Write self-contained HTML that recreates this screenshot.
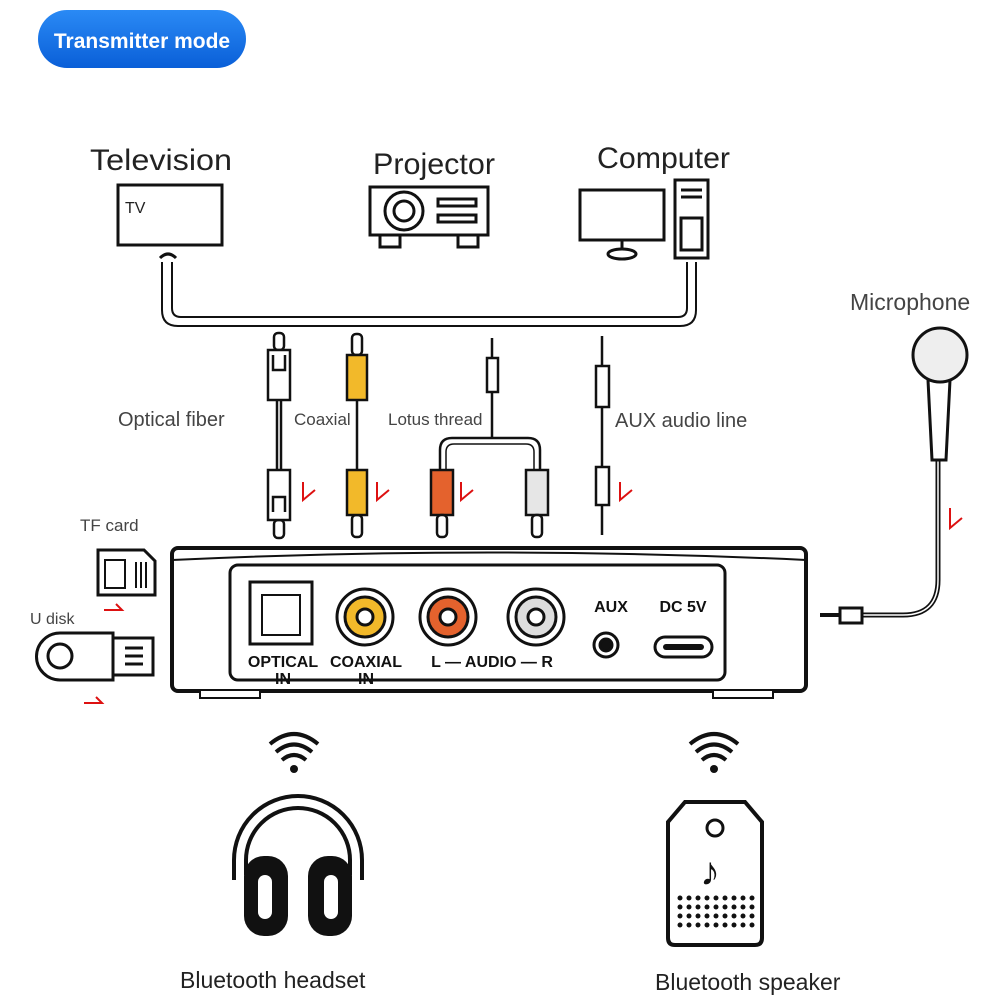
<!DOCTYPE html>
<html><head><meta charset="utf-8"><style>
html,body{margin:0;padding:0;background:#fff;width:1001px;height:1001px;overflow:hidden}
svg text{font-family:"Liberation Sans",sans-serif}
</style></head><body>
<svg width="1001" height="1001" viewBox="0 0 1001 1001" xmlns="http://www.w3.org/2000/svg">
<defs><linearGradient id="bl" x1="0" y1="0" x2="0" y2="1"><stop offset="0" stop-color="#2a8af5"/><stop offset="1" stop-color="#0a5fd8"/></linearGradient></defs>
<rect x="38" y="10" width="208" height="58" rx="29" fill="url(#bl)"/>
<text x="142" y="48" font-size="21" font-weight="bold" fill="#fff" text-anchor="middle">Transmitter mode</text>

<g fill="#222" font-size="30">
<text x="90" y="170" textLength="142" lengthAdjust="spacingAndGlyphs">Television</text>
<text x="373" y="174" textLength="122" lengthAdjust="spacingAndGlyphs">Projector</text>
<text x="597" y="168" textLength="133" lengthAdjust="spacingAndGlyphs">Computer</text>
</g>
<g fill="#444" font-size="20">
<text x="118" y="426">Optical fiber</text>
<text x="294" y="425" font-size="17">Coaxial</text>
<text x="388" y="425" font-size="17">Lotus thread</text>
<text x="615" y="427">AUX audio line</text>
<text x="850" y="310" font-size="23">Microphone</text>
<text x="80" y="531" font-size="17">TF card</text>
<text x="30" y="624" font-size="16">U disk</text>
<text x="180" y="988" font-size="23" fill="#222">Bluetooth headset</text>
<text x="655" y="990" font-size="23" fill="#222">Bluetooth speaker</text>
</g>

<g fill="none" stroke="#111" stroke-width="3">
<rect x="118" y="185" width="104" height="60"/>
<path d="M160 258 q8 -8 16 0"/>
<rect x="370" y="187" width="118" height="48"/>
<rect x="380" y="235" width="20" height="12"/><rect x="458" y="235" width="20" height="12"/>
<circle cx="404" cy="211" r="19"/><circle cx="404" cy="211" r="10"/>
<rect x="438" y="199" width="38" height="7"/><rect x="438" y="215" width="38" height="7"/>
<rect x="580" y="190" width="84" height="50"/>
<path d="M622 240 v10"/><ellipse cx="622" cy="254" rx="14" ry="5"/>
<rect x="675" y="180" width="33" height="78"/>
<rect x="681" y="218" width="21" height="32"/>
<path d="M681 190 h21 M681 197 h21"/>
<path d="M162 262 V310 q0 16 16 16 H680 q16 0 16 -16 V262" stroke-width="2"/>
<path d="M172 262 V308 q0 9 9 9 H678 q9 0 9 -9 V262" stroke-width="2"/>
</g>
<text x="125" y="213" font-size="16" fill="#222">TV</text>

<g stroke="#111" stroke-width="2.5" fill="none">
<!-- optical -->
<rect x="274" y="333" width="10" height="17" rx="4" fill="#fff"/>
<path d="M277 400 v70 M281 400 v70"/>
<rect x="274" y="520" width="10" height="18" rx="4" fill="#fff"/>
<rect x="268" y="350" width="22" height="50" fill="#fff"/>
<rect x="268" y="470" width="22" height="50" fill="#fff"/>
<path d="M273 355 v15 h12 v-15 M273 512 v-15 h12 v15"/>
<!-- coaxial -->
<rect x="352" y="334" width="10" height="21" rx="4" fill="#fff"/>
<path d="M357 400 v70"/>
<rect x="352" y="515" width="10" height="22" rx="4" fill="#fff"/>
<rect x="347" y="355" width="20" height="45" fill="#f2b92a"/>
<rect x="347" y="470" width="20" height="45" fill="#f2b92a"/>
<!-- lotus -->
<path d="M492 338 v20 M492 392 v46"/>
<rect x="487" y="358" width="11" height="34" fill="#fff"/>
<path d="M440 470 v-20 q0 -12 12 -12 h76 q12 0 12 12 v20"/>
<path d="M446 470 v-18 q0 -8 8 -8 h72 q8 0 8 8 v18" stroke-width="1.5"/>
<rect x="431" y="470" width="22" height="45" fill="#e4622d"/>
<rect x="526" y="470" width="22" height="45" fill="#e6e6e6"/>
<rect x="437" y="515" width="10" height="22" rx="4" fill="#fff"/>
<rect x="532" y="515" width="10" height="22" rx="4" fill="#fff"/>
<!-- aux -->
<path d="M602 336 v30 M602 407 v60 M602 505 v30"/>
<rect x="596" y="366" width="13" height="41" fill="#fff"/>
<rect x="596" y="467" width="13" height="38" fill="#fff"/>
</g>

<g stroke="#d11" stroke-width="2" fill="none">
<path d="M303 482 v18 l12 -10"/><path d="M377 482 v18 l12 -10"/><path d="M461 482 v18 l12 -10"/><path d="M620 482 v18 l12 -10"/>
<path d="M950 508 v20 l12 -10"/>
<path d="M104 610 h18 l-6 -6"/><path d="M84 703 h18 l-6 -6"/>
</g>

<path d="M178 548 H800 a6 6 0 0 1 6 6 V685 a6 6 0 0 1 -6 6 H178 a6 6 0 0 1 -6 -6 V554 a6 6 0 0 1 6 -6z" fill="#fff" stroke="#111" stroke-width="4"/>
<path d="M172 560 Q490 545 806 560" stroke="#111" stroke-width="2" fill="none"/>
<rect x="200" y="690" width="60" height="8" fill="#fff" stroke="#111" stroke-width="2"/>
<rect x="713" y="690" width="60" height="8" fill="#fff" stroke="#111" stroke-width="2"/>
<rect x="230" y="565" width="495" height="115" rx="8" fill="#fff" stroke="#111" stroke-width="3"/>
<g stroke="#111" stroke-width="3">
<rect x="250" y="582" width="62" height="62" fill="#fff"/>
<path d="M262 595 h38 v40 h-38z" fill="none" stroke-width="2"/>
<circle cx="365" cy="617" r="28" fill="#fff"/><circle cx="365" cy="617" r="20" fill="#f2b92a"/><circle cx="365" cy="617" r="8" fill="#fff"/>
<circle cx="448" cy="617" r="28" fill="#fff"/><circle cx="448" cy="617" r="20" fill="#e4622d"/><circle cx="448" cy="617" r="8" fill="#fff"/>
<circle cx="536" cy="617" r="28" fill="#fff"/><circle cx="536" cy="617" r="20" fill="#ddd"/><circle cx="536" cy="617" r="8" fill="#fff"/>
<circle cx="606" cy="645" r="12" fill="#fff"/><circle cx="606" cy="645" r="6" fill="#111"/>
<rect x="655" y="637" width="57" height="20" rx="10" fill="#fff"/>
<rect x="663" y="644" width="41" height="6" rx="3" fill="#111" stroke="none"/>
</g>
<g font-size="16" font-weight="bold" fill="#111" text-anchor="middle">
<text x="283" y="667">OPTICAL</text><text x="283" y="684">IN</text>
<text x="366" y="667">COAXIAL</text><text x="366" y="684">IN</text>
<text x="492" y="667">L — AUDIO — R</text>
<text x="611" y="612">AUX</text>
<text x="683" y="612">DC 5V</text>
</g>

<g stroke="#111" stroke-width="3" fill="#fff">
<path d="M98 550 h46 l11 11 v34 h-57z"/>
<rect x="105" y="560" width="20" height="28" stroke-width="2"/>
<path d="M136 562 v26 M141 562 v26 M146 562 v26" stroke-width="2"/>
<path d="M60 633 h53 v47 h-53 a23.5 23.5 0 0 1 0 -47z"/>
<circle cx="60" cy="656" r="12"/>
<rect x="113" y="638" width="40" height="37"/>
<path d="M125 648 h18 M125 656 h18 M125 664 h18" stroke-width="3"/>
</g>

<g stroke="#111" stroke-width="3" fill="#fff">
<path d="M938 455 V580 q0 35 -35 35 H862" fill="none" stroke-width="5"/>
<path d="M938 455 V580 q0 35 -35 35 H862" fill="none" stroke="#fff" stroke-width="1.5"/>
<rect x="840" y="608" width="22" height="15"/>
<path d="M820 615 h20" stroke-width="4"/>
<path d="M928 380 h22 l-4 80 h-14z"/>
<circle cx="940" cy="355" r="27" fill="#eee"/>
</g>

<g stroke="#111" stroke-width="4" fill="none">
<path d="M282 760 q12 -10 24 0 M276 752 q18 -15 36 0 M270 744 q24 -20 48 0"/>
<path d="M702 760 q12 -10 24 0 M696 752 q18 -15 36 0 M690 744 q24 -20 48 0"/>
</g>
<circle cx="294" cy="769" r="4" fill="#111"/><circle cx="714" cy="769" r="4" fill="#111"/>

<g stroke="#111" stroke-width="4" fill="none">
<path d="M234 880 v-20 a64 64 0 0 1 128 0 v20"/>
<path d="M246 875 v-15 a52 52 0 0 1 104 0 v15"/>
</g>
<rect x="244" y="856" width="44" height="80" rx="20" fill="#111"/>
<rect x="308" y="856" width="44" height="80" rx="20" fill="#111"/>
<rect x="258" y="875" width="14" height="44" rx="7" fill="#fff"/>
<rect x="324" y="875" width="14" height="44" rx="7" fill="#fff"/>

<path d="M685 802 h60 l17 20 V938 q0 7 -7 7 H675 q-7 0 -7 -7 V822z" fill="#fff" stroke="#111" stroke-width="4"/>
<circle cx="715" cy="828" r="8" fill="none" stroke="#111" stroke-width="3"/>
<text x="700" y="885" font-size="40" fill="#111" font-family="DejaVu Sans">♪</text>
<g fill="#111">
<circle cx="680" cy="898" r="2.5"/><circle cx="689" cy="898" r="2.5"/><circle cx="698" cy="898" r="2.5"/><circle cx="707" cy="898" r="2.5"/><circle cx="716" cy="898" r="2.5"/><circle cx="725" cy="898" r="2.5"/><circle cx="734" cy="898" r="2.5"/><circle cx="743" cy="898" r="2.5"/><circle cx="752" cy="898" r="2.5"/>
<circle cx="680" cy="907" r="2.5"/><circle cx="689" cy="907" r="2.5"/><circle cx="698" cy="907" r="2.5"/><circle cx="707" cy="907" r="2.5"/><circle cx="716" cy="907" r="2.5"/><circle cx="725" cy="907" r="2.5"/><circle cx="734" cy="907" r="2.5"/><circle cx="743" cy="907" r="2.5"/><circle cx="752" cy="907" r="2.5"/>
<circle cx="680" cy="916" r="2.5"/><circle cx="689" cy="916" r="2.5"/><circle cx="698" cy="916" r="2.5"/><circle cx="707" cy="916" r="2.5"/><circle cx="716" cy="916" r="2.5"/><circle cx="725" cy="916" r="2.5"/><circle cx="734" cy="916" r="2.5"/><circle cx="743" cy="916" r="2.5"/><circle cx="752" cy="916" r="2.5"/>
<circle cx="680" cy="925" r="2.5"/><circle cx="689" cy="925" r="2.5"/><circle cx="698" cy="925" r="2.5"/><circle cx="707" cy="925" r="2.5"/><circle cx="716" cy="925" r="2.5"/><circle cx="725" cy="925" r="2.5"/><circle cx="734" cy="925" r="2.5"/><circle cx="743" cy="925" r="2.5"/><circle cx="752" cy="925" r="2.5"/>
</g>
</svg>
</body></html>
